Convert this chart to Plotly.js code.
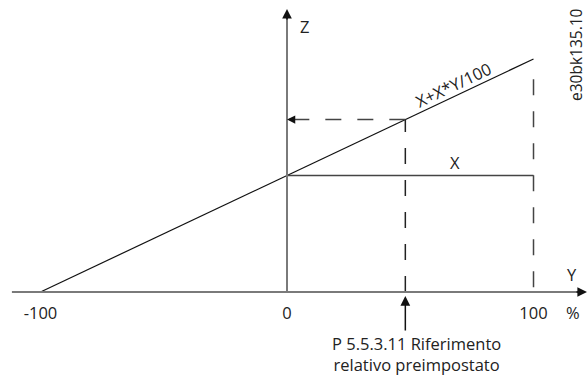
<!DOCTYPE html>
<html>
<head>
<meta charset="utf-8">
<script src="https://cdn.plot.ly/plotly-3.0.1.min.js"></script>
<style>html,body{margin:0;padding:0;background:#fff;}#chart{width:587px;height:376px;}</style>
</head>
<body>
<div id="chart"></div>
<script>
// Y (%) positions and Z values of the line Z = X + X*Y/100 (X = 1)
const slopeY = [-100, 0, 100];
const slopeZ = [0, 1, 2];
// constant X line
const constY = [0, 100];
const constZ = [1, 1];
// preset relative reference (P 5.5.3.11)
const presetY = [48, 48];
const presetZ = [0, 1.48];
const presetHY = [48, 0];
const presetHZ = [1.48, 1.48];
// 100 % guide line
const fullY = [100, 100];
const fullZ = [0.04, 1.92];
// tick labels
const tickVals = [-100, 0, 100];
const tickText = ['-100', '0', '100'];

const FONT = 'Open Sans, DejaVu Sans, sans-serif';
const FS = 16.5;
const TXT = '#222';
const DASH = '16px,16px';

const traces = [
  {x: slopeY, y: slopeZ, mode: 'lines', line: {color: '#111', width: 1.2}, hoverinfo: 'skip'},
  {x: constY, y: constZ, mode: 'lines', line: {color: '#444', width: 1.5}, hoverinfo: 'skip'},
  {x: presetY, y: presetZ, mode: 'lines', line: {color: '#222', width: 1.5, dash: DASH}, hoverinfo: 'skip'},
  {x: presetHY, y: presetHZ, mode: 'lines', line: {color: '#444', width: 1.5, dash: DASH}, hoverinfo: 'skip'},
  {x: fullY, y: fullZ, mode: 'lines', line: {color: '#444', width: 1.5, dash: DASH}, hoverinfo: 'skip'}
];

const xMin = -116.43, xMax = 121.7;
const yMin = -0.721, yMax = 2.506;
const zTop = 2.429;

function label(x, y, text, extra) {
  return Object.assign({x: x, y: y, xref: 'x', yref: 'y', text: text, showarrow: false,
    xanchor: 'center', yanchor: 'middle', font: {family: FONT, size: FS, color: TXT}}, extra || {});
}

const layout = {
  width: 587, height: 376,
  margin: {l: 0, r: 0, t: 0, b: 0},
  paper_bgcolor: '#fff', plot_bgcolor: '#fff',
  showlegend: false,
  xaxis: {
    range: [xMin, xMax], showgrid: false, zeroline: false, showline: false,
    tickvals: tickVals, ticktext: tickText,
    ticks: 'outside', ticklen: 6, tickcolor: 'rgba(0,0,0,0)',
    tickfont: {family: FONT, size: FS, color: TXT},
    anchor: 'free', position: (0 - yMin) / (yMax - yMin), fixedrange: true
  },
  yaxis: {range: [yMin, yMax], visible: false, fixedrange: true},
  shapes: [
    {type: 'line', xref: 'x', yref: 'y', x0: -111.6, x1: 119, y0: 0, y1: 0, line: {color: '#7a7a7a', width: 2}},
    {type: 'line', xref: 'x', yref: 'y', x0: 0, x1: 0, y0: 0, y1: 2.35, line: {color: '#7a7a7a', width: 2}}
  ],
  annotations: [
    // axis arrowheads
    {x: 0, y: zTop, xref: 'x', yref: 'y', ax: 0, ay: 12, text: '', showarrow: true, arrowhead: 2, arrowsize: 1.2, arrowwidth: 1.6, arrowcolor: '#111'},
    {x: xMax, y: 0, xref: 'x', yref: 'y', ax: -12, ay: 0, text: '', showarrow: true, arrowhead: 2, arrowsize: 1.2, arrowwidth: 1.6, arrowcolor: '#111'},
    // dashed reference arrow to Z axis
    {x: 0, y: presetHZ[0], xref: 'x', yref: 'y', ax: 8, ay: 0, text: '', showarrow: true, arrowhead: 2, arrowsize: 1.1, arrowwidth: 1.5, arrowcolor: '#111'},
    // arrow under the axis
    {x: presetY[0], y: -0.034, xref: 'x', yref: 'y', ax: 0, ay: 36, text: '', showarrow: true, arrowhead: 2, arrowsize: 1.3, arrowwidth: 1.5, arrowcolor: '#111'},
    label(52.5, -0.53, 'P 5.5.3.11 Riferimento<br>relativo preimpostato', {align: 'center'}),
    // labels
    label(4.5, 2.279, 'Z', {xanchor: 'left'}),
    label(115.6, 0.146, 'Y'),
    label(116, -0.172, '%'),
    label(68.2, 1.11, 'X'),
    label(67.7, 1.777, 'X+X*Y/100', {textangle: -25.3}),
    {x: 576 / 587, y: 1 - 55 / 376, xref: 'paper', yref: 'paper', xanchor: 'center', yanchor: 'middle',
     text: 'e30bk135.10', textangle: -90, showarrow: false, font: {family: FONT, size: 15.5, color: TXT}}
  ]
};

Plotly.newPlot('chart', traces, layout, {displayModeBar: false, staticPlot: true});
</script>
</body>
</html>
